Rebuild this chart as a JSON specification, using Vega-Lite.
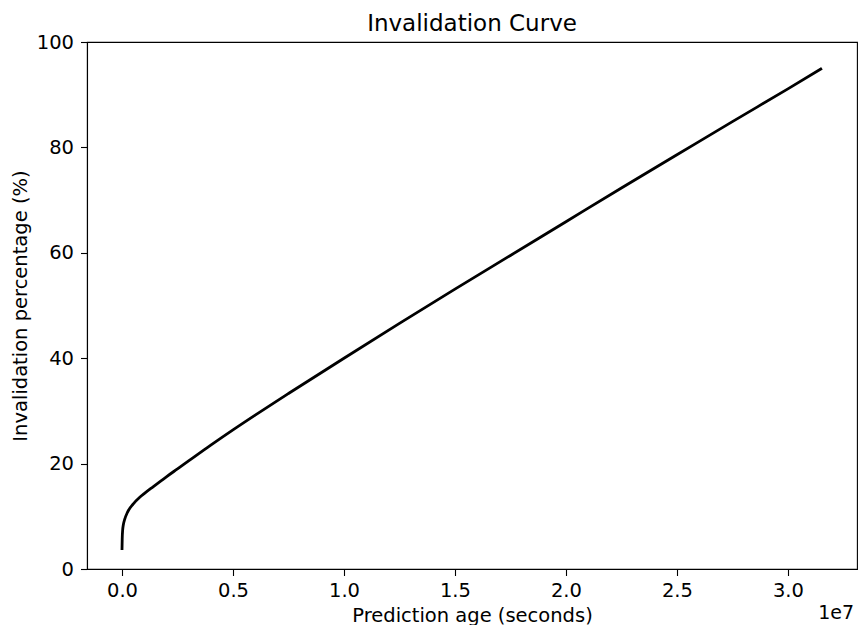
{
  "$schema": "https://vega.github.io/schema/vega-lite/v6.json",
  "width": 770,
  "height": 527,
  "autosize": "none",
  "padding": {"left": 87, "top": 42, "right": 1, "bottom": 56},
  "background": "white",
  "config": {
    "font": "DejaVu Sans",
    "view": {"stroke": "black", "strokeWidth": 1.1},
    "axis": {
      "grid": false,
      "domainColor": "black",
      "domainWidth": 1.1,
      "tickColor": "black",
      "tickWidth": 1.1,
      "tickSize": 6.5,
      "labelColor": "black",
      "titleColor": "black",
      "labelFontSize": 19.5,
      "titleFontSize": 19.5,
      "titleFontWeight": "normal",
      "labelFont": "DejaVu Sans",
      "titleFont": "DejaVu Sans"
    },
    "title": {"font": "DejaVu Sans", "fontSize": 23, "fontWeight": "normal", "color": "black", "offset": -4}
  },
  "title": {"text": "Invalidation Curve", "anchor": "middle"},
  "layer": [
    {
      "data": {"values": [
        {"age": 0, "pct": 3.6},
        {"age": 10000, "pct": 5.8},
        {"age": 30000, "pct": 7.4},
        {"age": 60000, "pct": 8.4},
        {"age": 120000, "pct": 9.4},
        {"age": 250000, "pct": 10.8},
        {"age": 500000, "pct": 12.3},
        {"age": 800000, "pct": 13.6},
        {"age": 1000000, "pct": 14.3},
        {"age": 1400000, "pct": 15.6},
        {"age": 2000000, "pct": 17.5},
        {"age": 2500000, "pct": 19.0},
        {"age": 3000000, "pct": 20.5},
        {"age": 4000000, "pct": 23.5},
        {"age": 5000000, "pct": 26.4},
        {"age": 6000000, "pct": 29.2},
        {"age": 7500000, "pct": 33.3},
        {"age": 10000000, "pct": 40.0},
        {"age": 12500000, "pct": 46.6},
        {"age": 15000000, "pct": 53.1},
        {"age": 17500000, "pct": 59.5},
        {"age": 20000000, "pct": 65.9},
        {"age": 22500000, "pct": 72.3},
        {"age": 25000000, "pct": 78.6},
        {"age": 27500000, "pct": 84.9},
        {"age": 30000000, "pct": 91.1},
        {"age": 31536000, "pct": 95.0}
      ]},
      "mark": {"type": "line", "color": "black", "strokeWidth": 2.8, "interpolate": "monotone"},
      "encoding": {
        "x": {
          "field": "age", "type": "quantitative",
          "scale": {"domain": [-1576800, 33112800], "nice": false, "zero": false},
          "axis": {
            "title": "Prediction age (seconds)",
            "values": [0, 5000000, 10000000, 15000000, 20000000, 25000000, 30000000],
            "labelExpr": "format(datum.value / 10000000, '.1f')",
            "labelPadding": 6,
            "titlePadding": 6
          }
        },
        "y": {
          "field": "pct", "type": "quantitative",
          "scale": {"domain": [0, 100], "nice": false},
          "axis": {
            "title": "Invalidation percentage (%)",
            "values": [0, 20, 40, 60, 80, 100],
            "labelPadding": 7,
            "titlePadding": 6
          }
        }
      }
    },
    {
      "data": {"values": [{"offset": "1e7"}]},
      "mark": {"type": "text", "align": "right", "baseline": "middle", "dx": -3, "dy": 44, "fontSize": 19, "font": "DejaVu Sans", "color": "black"},
      "encoding": {
        "x": {"datum": 33112800, "type": "quantitative"},
        "y": {"datum": 0, "type": "quantitative"},
        "text": {"field": "offset"}
      }
    }
  ]
}
